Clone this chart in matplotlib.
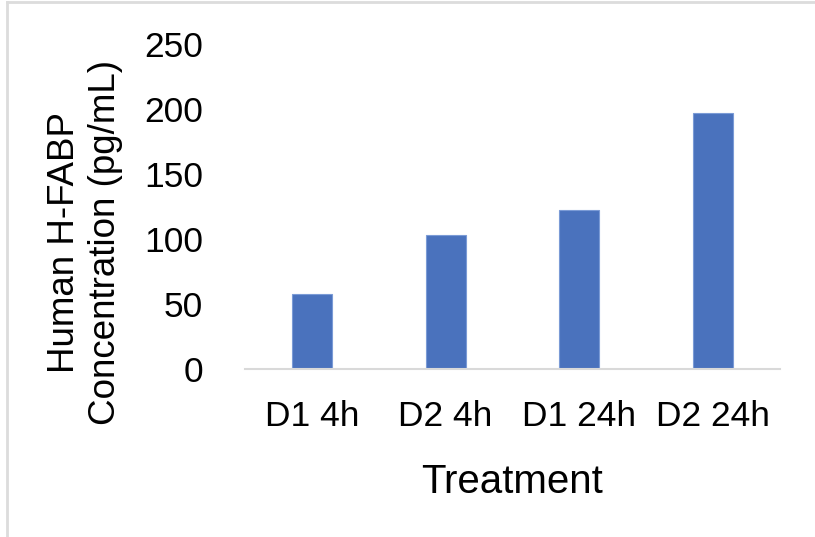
import matplotlib.pyplot as plt
from matplotlib.lines import Line2D

plt.rcParams['font.family'] = ['Liberation Sans', 'DejaVu Sans']

treatments = ['D1 4h', 'D2 4h', 'D1 24h', 'D2 24h']
hfabp = [58, 103, 122, 197]

fig = plt.figure(figsize=(8.15, 5.37), dpi=100)
ax = fig.add_axes([0.3006, 0.3128, 0.6564, 0.6052])

x = range(len(treatments))
ax.bar(x, hfabp, 0.3, color='#4a72bd', edgecolor='#7b9bd6', linewidth=0.8)

ax.set_xlim(-0.5, len(treatments) - 0.5)
ax.set_ylim(0, 250)
ax.set_yticks([0, 50, 100, 150, 200, 250])
ax.set_xticks(list(x))
ax.set_xticklabels(treatments)
ax.tick_params(axis='both', length=0, labelsize=25.5, colors='black')
ax.tick_params(axis='y', pad=30)
ax.tick_params(axis='x', pad=22)

for s in ['top', 'right', 'left']:
    ax.spines[s].set_visible(False)
ax.spines['bottom'].set_color('#d9d9d9')
ax.spines['bottom'].set_linewidth(1.5)

ax.set_xlabel('Treatment', fontsize=29, labelpad=22)
ax.set_ylabel('Human H-FABP\nConcentration (pg/mL)', fontsize=26.5,
              linespacing=1.2)
ax.yaxis.label.set_va('center')
ax.yaxis.label.set_ha('center')
ax.yaxis.set_label_coords(-0.299, 0.388)

# light frame on left and top edge
fig.add_artist(Line2D([0.0085, 0.0085], [0, 0.997], transform=fig.transFigure,
                      color='#dcdcdc', linewidth=2))
fig.add_artist(Line2D([0.0085, 1], [0.997, 0.997], transform=fig.transFigure,
                      color='#dcdcdc', linewidth=2))

plt.savefig('out.png', format='png')
